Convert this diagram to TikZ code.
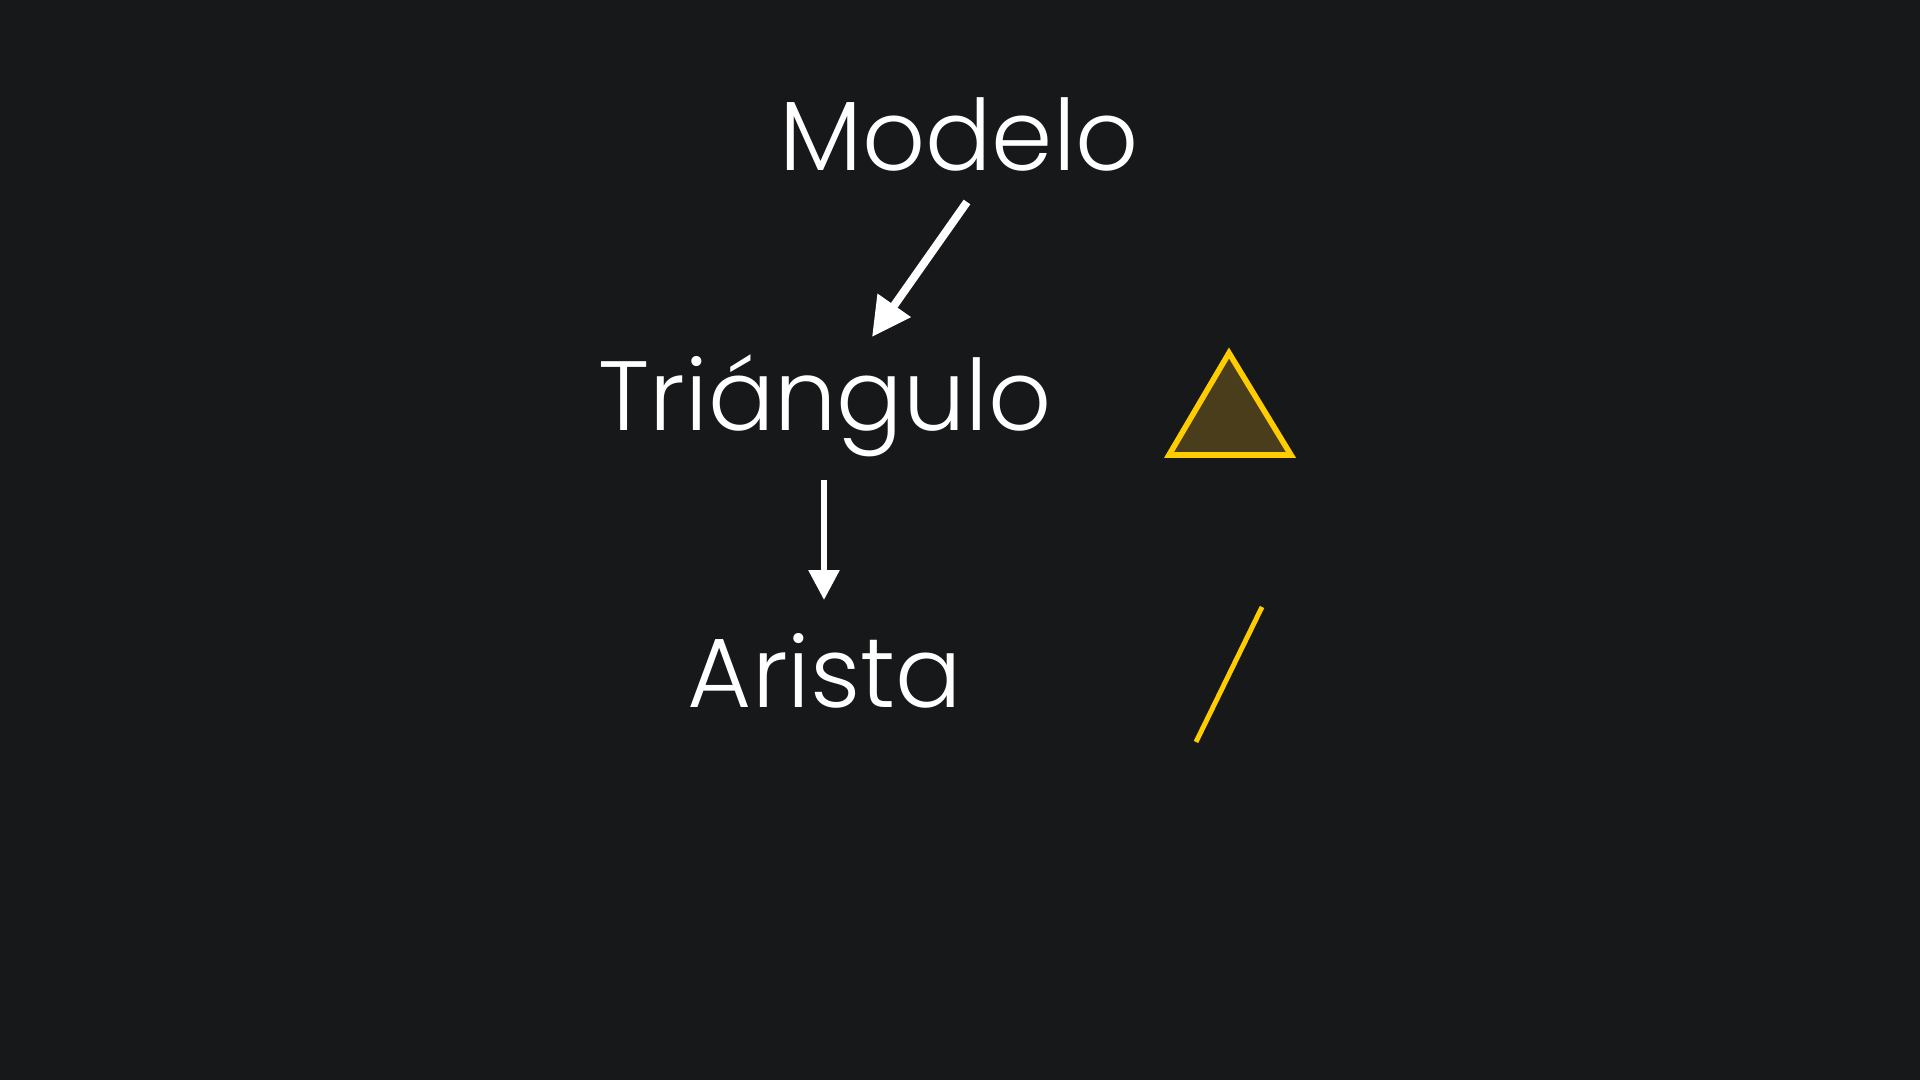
\documentclass[tikz,border=0pt]{standalone}
\usepackage{fontspec}
\setmainfont{Poppins}[UprightFont=* Light]
\usetikzlibrary{arrows.meta}

\definecolor{bgdark}{HTML}{17181A}
\definecolor{edgegold}{HTML}{FFCC00}
\definecolor{facebrown}{HTML}{4A3D1C}

\tikzset{
  level/.style={text=white, font=\fontsize{28}{34}\selectfont, anchor=base, inner sep=0pt},
  bigarrow/.style={draw=white, line width=2.3pt, -{Triangle[length=11pt,width=11pt]}},
  smallarrow/.style={draw=white, line width=1.7pt, -{Triangle[length=8.5pt,width=8.5pt]}},
}

\begin{document}
\begin{tikzpicture}[x=0.01cm, y=-0.01cm]
\fill[bgdark] (0,0) rectangle (1920,1080);
\useasboundingbox (0,0) rectangle (1920,1080);

% levels
\node[level] (modelo) at (959,171) {Modelo};
\node[level] (triangulo) at (825,431) {Triángulo};
\node[level] (arista) at (825,708) {Arista};

% arrows between levels
\coordinate (m1) at (967,202);
\coordinate (t1) at (872,337);
\coordinate (t2) at (824,480);
\coordinate (a1) at (824,600);
\draw[bigarrow] (m1) -- (t1);
\draw[smallarrow] (t2) -- (a1);

% pictures on the right
\draw[edgegold, fill=facebrown, line width=1.6pt, line join=miter]
  (1229,353) -- (1291,455) -- (1169,455) -- cycle;
\draw[edgegold, line width=1.4pt] (1262,607) -- (1196,742);
\end{tikzpicture}
\end{document}
